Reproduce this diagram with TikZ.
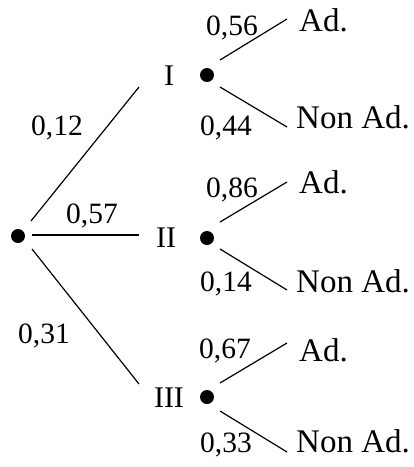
\documentclass[tikz,border=0pt]{standalone}
\usepackage{fontspec}
\setmainfont{Liberation Serif}
\begin{document}
\begin{tikzpicture}[x=1pt,y=-1pt,
  dot/.style={circle,fill=black,inner sep=0pt,minimum size=14pt},
  br/.style={line width=1.2pt},
  prob/.style={anchor=base,inner sep=0pt,font=\fontsize{29.5}{29.5}\selectfont},
  lvl/.style={anchor=base,inner sep=0pt,font=\fontsize{30}{30}\selectfont},
  leaf/.style={anchor=base west,inner sep=0pt,font=\fontsize{33}{33}\selectfont}]
\useasboundingbox (0,0) rectangle (414,467);
% dots
\node[dot] (r) at (18,236) {};
\node[dot] (d1) at (207,75) {};
\node[dot] (d2) at (207,238) {};
\node[dot] (d3) at (207,397) {};
% level labels
\node[lvl] (L1) at (169,85) {I};
\node[lvl] (L2) at (166,247) {II};
\node[lvl] (L3) at (169,407) {III};
% leaves
\node[leaf] (a1) at (299,31) {Ad.};
\node[leaf] (n1) at (296,128) {Non Ad.};
\node[leaf] (a2) at (299,193) {Ad.};
\node[leaf] (n2) at (296,292) {Non Ad.};
\node[leaf] (a3) at (299,361) {Ad.};
\node[leaf] (n3) at (296,452) {Non Ad.};
% connector end points
\coordinate (r1) at (31,221); \coordinate (e1) at (139,87);
\coordinate (r2) at (32,235); \coordinate (e2) at (139,235);
\coordinate (r3) at (32,249); \coordinate (e3) at (139,384);
\coordinate (s1a) at (220,60);  \coordinate (t1a) at (287,19);
\coordinate (s1n) at (220,87);  \coordinate (t1n) at (287,127);
\coordinate (s2a) at (220,222); \coordinate (t2a) at (287,182);
\coordinate (s2n) at (220,249); \coordinate (t2n) at (287,290);
\coordinate (s3a) at (220,383); \coordinate (t3a) at (287,343);
\coordinate (s3n) at (220,411); \coordinate (t3n) at (287,452);
\draw[br] (r1) -- (e1);
\draw[br] (r2) -- (e2);
\draw[br] (r3) -- (e3);
\draw[br] (s1a) -- (t1a);
\draw[br] (s1n) -- (t1n);
\draw[br] (s2a) -- (t2a);
\draw[br] (s2n) -- (t2n);
\draw[br] (s3a) -- (t3a);
\draw[br] (s3n) -- (t3n);
% probabilities
\node[prob] (p1) at (57,135) {0,12};
\node[prob] (p2) at (92,223) {0,57};
\node[prob] (p3) at (44,343) {0,31};
\node[prob] (q1a) at (232,35) {0,56};
\node[prob] (q1n) at (226,135) {0,44};
\node[prob] (q2a) at (232,197) {0,86};
\node[prob] (q2n) at (226,291) {0,14};
\node[prob] (q3a) at (225,358) {0,67};
\node[prob] (q3n) at (226,452) {0,33};
\end{tikzpicture}
\end{document}
